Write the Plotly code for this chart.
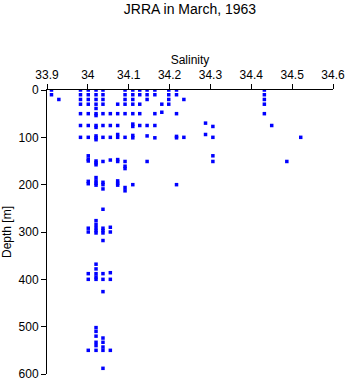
import plotly.graph_objects as go

# Observed salinity columns and the depths [m] at which each value occurs
sal_33911 = [0, 10]
sal_33929 = [20]
sal_33982 = [0, 10, 20, 30, 50, 75, 100]
sal_34001 = [0, 10, 20, 30, 50, 75, 100, 139, 146, 150, 193, 198, 292, 300, 388, 400, 550]
sal_34020 = [0, 10, 20, 30, 39, 50, 54, 75, 79, 97, 101, 105, 150, 154, 158, 185, 192, 197, 201,
             276, 284, 291, 297, 302, 368, 378, 388, 395, 400, 502, 510, 520, 533, 540, 550]
sal_34037 = [0, 10, 20, 30, 50, 75, 100, 151, 195, 200, 209, 252, 292, 297, 302, 318,
             388, 400, 426, 524, 533, 543, 550, 588]
sal_34055 = [50, 75, 100, 148, 290, 300, 386, 400, 550]
sal_34073 = [30, 50, 75, 94, 100, 147, 151, 192, 197, 201]
sal_34091 = [0, 10, 20, 30, 50, 100, 151, 161, 166, 206, 213]
sal_34110 = [0, 10, 20, 30, 50, 72, 77, 96, 101, 200]
sal_34127 = [0, 10, 30, 50, 75]
sal_34145 = [0, 10, 20, 75, 97, 151]
sal_34164 = [0, 10, 50, 75, 101]
sal_34181 = [30, 47]
sal_34198 = [0, 10, 20, 30]
sal_34217 = [0, 10, 50, 98, 101, 200]
sal_34235 = [20, 100]
sal_34288 = [70, 94]
sal_34306 = [77, 100, 139, 151]
sal_34432 = [0, 10, 20, 30, 50]
sal_34450 = [75]
sal_34487 = [151]
sal_34521 = [100]

columns = [
    (33.911, sal_33911), (33.929, sal_33929), (33.982, sal_33982), (34.001, sal_34001),
    (34.020, sal_34020), (34.037, sal_34037), (34.055, sal_34055), (34.073, sal_34073),
    (34.091, sal_34091), (34.110, sal_34110), (34.127, sal_34127), (34.145, sal_34145),
    (34.164, sal_34164), (34.181, sal_34181), (34.198, sal_34198), (34.217, sal_34217),
    (34.235, sal_34235), (34.288, sal_34288), (34.306, sal_34306), (34.432, sal_34432),
    (34.450, sal_34450), (34.487, sal_34487), (34.521, sal_34521),
]

salinity = []
depth = []
for s, ds in columns:
    for d in ds:
        salinity.append(s)
        depth.append(d)

x_ticks = [33.9, 34.0, 34.1, 34.2, 34.3, 34.4, 34.5, 34.6]
x_tick_labels = ["33.9", "34", "34.1", "34.2", "34.3", "34.4", "34.5", "34.6"]
y_ticks = [0, 100, 200, 300, 400, 500, 600]

font_family = "Liberation Sans, Arial, Helvetica, sans-serif"

fig = go.Figure(
    go.Scatter(
        x=salinity, y=depth, mode="markers",
        marker=dict(symbol="square", size=3.5, color="#0000ff", line=dict(width=0)),
        showlegend=False,
    )
)

fig.update_layout(
    width=346, height=384,
    margin=dict(l=47, r=13, t=90, b=10),
    paper_bgcolor="white", plot_bgcolor="white",
    font=dict(family=font_family, size=12, color="black"),
    title=dict(text="JRRA in March, 1963", x=0.5, xref="paper", xanchor="center",
               y=1 - 9 / 384, yref="container", yanchor="middle",
               font=dict(size=14, family=font_family, color="black")),
)

fig.update_xaxes(
    side="top", range=[33.9, 34.6], tickvals=x_ticks, ticktext=x_tick_labels,
    showgrid=False, zeroline=False, showline=True, linecolor="black", linewidth=1,
    ticks="outside", ticklen=5, tickcolor="black", tickwidth=1,
    tickfont=dict(size=12), automargin=False,
    title=dict(text="Salinity", font=dict(size=12), standoff=1),
)
fig.update_yaxes(
    range=[600, 0], tickvals=y_ticks, automargin=False,
    showgrid=False, zeroline=False, showline=True, linecolor="black", linewidth=1,
    ticks="outside", ticklen=5, tickcolor="black", tickwidth=1,
    tickfont=dict(size=12),
    title=dict(text="Depth [m]", font=dict(size=12), standoff=4),
)

fig.write_html("out.html")
